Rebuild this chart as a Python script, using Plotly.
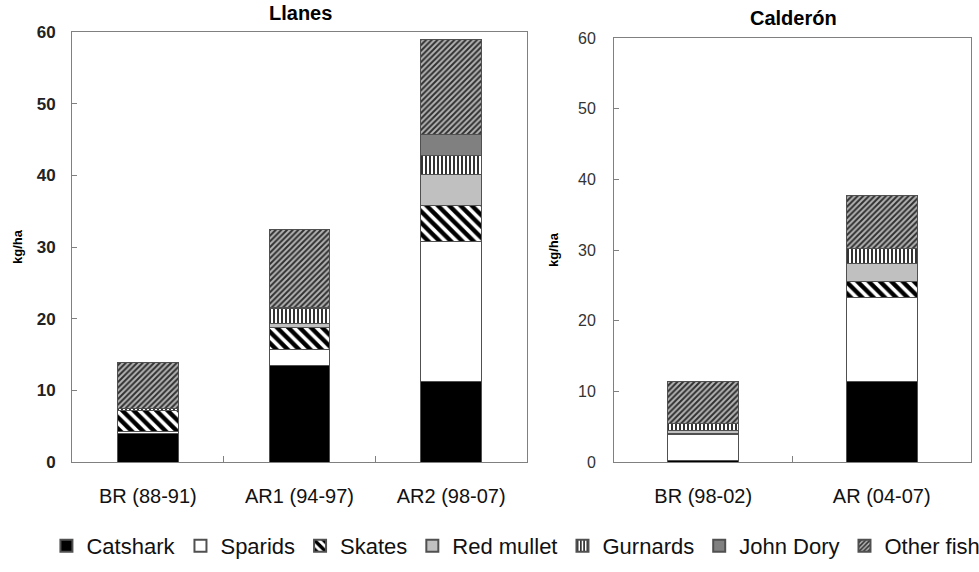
import plotly.graph_objects as go

# ---------------- data ----------------
series_names = ["Catshark", "Sparids", "Skates", "Red mullet", "Gurnards", "John Dory", "Other fish"]

llanes_categories = ["BR (88-91)", "AR1 (94-97)", "AR2 (98-07)"]
llanes_catshark = [4.0, 13.5, 11.2]
llanes_sparids = [0.2, 2.2, 19.5]
llanes_skates = [3.0, 3.1, 5.1]
llanes_red_mullet = [0.0, 0.5, 4.3]
llanes_gurnards = [0.3, 2.1, 2.7]
llanes_john_dory = [0.0, 0.2, 2.9]
llanes_other = [6.4, 10.9, 13.3]

calderon_categories = ["BR (98-02)", "AR (04-07)"]
calderon_catshark = [0.2, 11.4]
calderon_sparids = [3.7, 11.9]
calderon_skates = [0.1, 2.3]
calderon_red_mullet = [0.5, 2.5]
calderon_gurnards = [0.95, 2.1]
calderon_john_dory = [0.0, 0.0]
calderon_other = [5.9, 7.5]

y_ticks = [0, 10, 20, 30, 40, 50, 60]

# ---------------- styles ----------------
FONT = "Liberation Sans, Arial, sans-serif"
styles = {
    "Catshark": dict(color="#000000", pattern=dict(shape="")),
    "Sparids": dict(color="#ffffff", pattern=dict(shape="")),
    "Skates": dict(color="#ffffff", pattern=dict(shape="\\", fgcolor="#000000", bgcolor="#ffffff",
                                                 fgopacity=1, size=8, solidity=0.55)),
    "Red mullet": dict(color="#c0c0c0", pattern=dict(shape="")),
    "Gurnards": dict(color="#ffffff", pattern=dict(shape="|", fgcolor="#000000", bgcolor="#ffffff",
                                                   fgopacity=1, size=4, solidity=0.4)),
    "John Dory": dict(color="#808080", pattern=dict(shape="")),
    "Other fish": dict(color="#808080", pattern=dict(shape="/", fgcolor="#303030", bgcolor="#b4b4b4",
                                                     fgopacity=1, size=4, solidity=0.5)),
}

llanes_values = [llanes_catshark, llanes_sparids, llanes_skates, llanes_red_mullet,
                 llanes_gurnards, llanes_john_dory, llanes_other]
calderon_values = [calderon_catshark, calderon_sparids, calderon_skates, calderon_red_mullet,
                   calderon_gurnards, calderon_john_dory, calderon_other]

fig = go.Figure()

for name, vals in zip(series_names, llanes_values):
    st = styles[name]
    fig.add_trace(go.Bar(
        x=llanes_categories, y=vals, name=name, xaxis="x", yaxis="y",
        marker=dict(color=st["color"], pattern=st["pattern"],
                    line=dict(color="#505050", width=1)),
        showlegend=True, legendgroup=name,
    ))

for name, vals in zip(series_names, calderon_values):
    st = styles[name]
    fig.add_trace(go.Bar(
        x=calderon_categories, y=vals, name=name, xaxis="x2", yaxis="y2",
        marker=dict(color=st["color"], pattern=st["pattern"],
                    line=dict(color="#505050", width=1)),
        showlegend=False, legendgroup=name,
    ))

W, H = 979, 572
axis_common = dict(showline=True, linecolor="#808080", linewidth=1, mirror=True,
                   showgrid=False, zeroline=False, automargin=False)

fig.update_layout(
    width=W, height=H,
    margin=dict(l=0, r=0, t=0, b=0, autoexpand=False),
    paper_bgcolor="white", plot_bgcolor="white",
    barmode="stack", bargap=0.6,
    font=dict(family=FONT, color="#000000"),
    xaxis=dict(domain=[72 / W, 527 / W], anchor="y", ticks="inside", tickson="boundaries",
               ticklen=6, tickcolor="#808080",
               tickfont=dict(size=20, color="#111111"), ticklabelstandoff=16, **axis_common),
    yaxis=dict(domain=[(H - 462) / H, (H - 32) / H], anchor="x", range=[0, 60],
               tickvals=y_ticks, ticks="inside", ticklen=5, tickcolor="#808080",
               tickfont=dict(size=17, color="#222222", family="Liberation Sans, Arial", weight="bold"),
               ticklabelstandoff=12, **axis_common),
    xaxis2=dict(domain=[614 / W, 971 / W], anchor="y2", ticks="inside", tickson="boundaries",
                ticklen=6, tickcolor="#808080",
                tickfont=dict(size=20, color="#111111"), ticklabelstandoff=16, **axis_common),
    yaxis2=dict(domain=[(H - 462) / H, (H - 38) / H], anchor="x2", range=[0, 60],
                tickvals=y_ticks, ticks="inside", ticklen=5, tickcolor="#808080",
                tickfont=dict(size=16, color="#333333"), ticklabelstandoff=14, **axis_common),
    legend=dict(orientation="h", x=0.527, xanchor="center", y=(H - 546) / H, yanchor="middle",
                font=dict(size=22, color="#111111"), itemsizing="constant",
                traceorder="normal", tracegroupgap=0, itemwidth=30),
    annotations=[
        dict(text="<b>Llanes</b>", x=300 / W, y=(H - 13) / H, xref="paper", yref="paper",
             showarrow=False, font=dict(size=20), xanchor="center", yanchor="middle"),
        dict(text="<b>Calderón</b>", x=793 / W, y=(H - 18) / H, xref="paper", yref="paper",
             showarrow=False, font=dict(size=20), xanchor="center", yanchor="middle"),
        dict(text="<b>kg/ha</b>", x=18 / W, y=(H - 247) / H, xref="paper", yref="paper",
             showarrow=False, font=dict(size=13), textangle=-90, xanchor="center", yanchor="middle"),
        dict(text="<b>kg/ha</b>", x=553 / W, y=(H - 250) / H, xref="paper", yref="paper",
             showarrow=False, font=dict(size=13), textangle=-90, xanchor="center", yanchor="middle"),
    ],
)

fig.write_html("out.html")
